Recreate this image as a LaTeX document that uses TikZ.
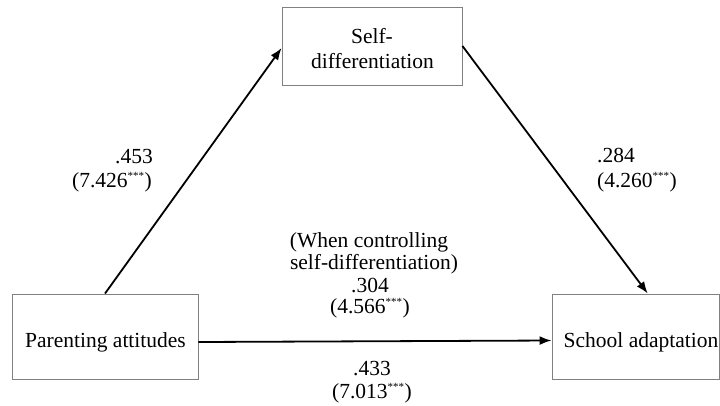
\documentclass[tikz,border=0pt]{standalone}
\usepackage{fontspec}
\setmainfont{Liberation Serif}
\usetikzlibrary{arrows.meta}
\newcommand{\sig}{\textsuperscript{\fontsize{11}{11}\selectfont ***}}
\begin{document}
\begin{tikzpicture}[x=1pt,y=-1pt,
  box/.style={draw=black!50, line width=0.9pt, inner sep=0pt},
  txt/.style={inner sep=0pt, anchor=base, font=\fontsize{21.5}{22}\selectfont},
  conn/.style={line width=1.8pt, -{Latex[length=12pt,width=9pt]}}]
\useasboundingbox[fill=white] (0,0) rectangle (720,405);
% boxes
\node[box, minimum width=180pt, minimum height=78pt] (sd) at (372,46) {};
\node[box, minimum width=186pt, minimum height=85pt] (pa) at (105,336.5) {};
\node[box, minimum width=167.5pt, minimum height=85pt] (sa) at (635.75,336.5) {};
% box texts
\node[txt] (sdt1) at (372,43) {Self-};
\node[txt] (sdt2) at (372.5,68) {differentiation};
\node[txt] (pat) at (105.5,347) {Parenting attitudes};
\node[txt] (sat) at (641,347) {School adaptation};
% connectors
\draw[conn] (pa.north) -- ([yshift=-2pt]sd.west);
\draw[conn] (sd.east) -- ([xshift=12pt]sa.north);
\draw[conn] ([yshift=-5.5pt]pa.east) -- ([yshift=-4pt]sa.west);
% labels
\node[txt, anchor=base east] (l1) at (153,163) {.453};
\node[txt, anchor=base east] (l2) at (152,187) {(7.426\sig)};
\node[txt, anchor=base west] (r1) at (597,162) {.284};
\node[txt, anchor=base west] (r2) at (597,187) {(4.260\sig)};
\node[txt] (m1) at (369,247) {(When controlling};
\node[txt] (m2) at (374,269) {self-differentiation)};
\node[txt] (m3) at (370,292) {.304};
\node[txt] (m4) at (370,313) {(4.566\sig)};
\node[txt] (b1) at (372,375) {.433};
\node[txt] (b2) at (372,398) {(7.013\sig)};
\end{tikzpicture}
\end{document}
